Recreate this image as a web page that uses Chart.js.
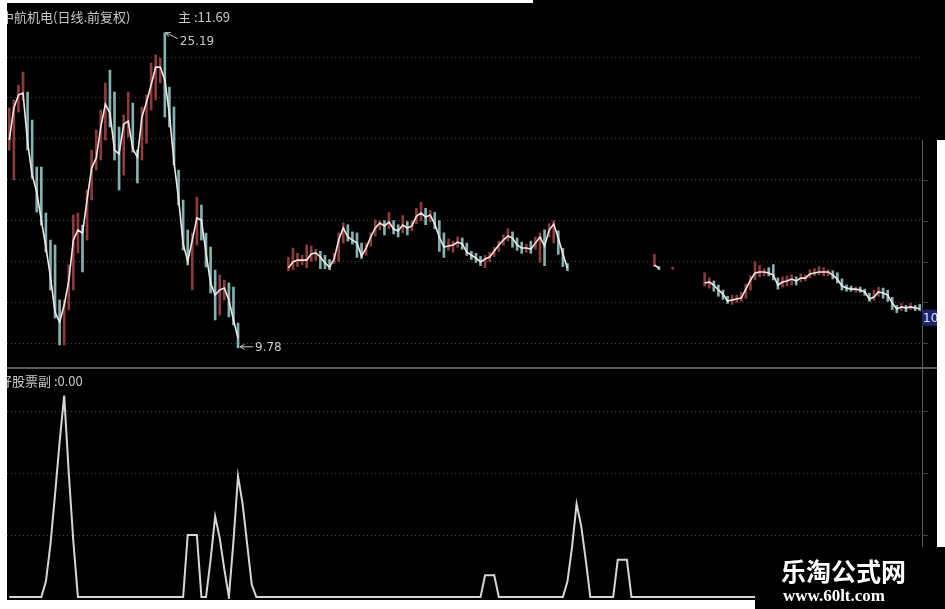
<!DOCTYPE html>
<html>
<head>
<meta charset="utf-8">
<script src="https://cdn.jsdelivr.net/npm/chart.js@4.4.1/dist/chart.umd.min.js"></script>
<style>
  html, body { margin: 0; padding: 0; background: #000; }
  canvas { display: block; }
</style>
</head>
<body>
<canvas id="kline" width="945" height="609"></canvas>
<script>
const stockTitle = '中航机电(日线.前复权)';
const subTitle = '好股票副';

// daily close (main line), null = no bar drawn
const closes = [
  19.94, 21.51, 22.14, 22.24, 19.84, 18.23, 17.40, 16.03, 14.71, 13.24,
  11.53, 11.04, 11.87, 13.05, 15.05, 15.54, 15.39, 17.01, 18.57, 19.06,
  20.58, 21.70, 21.26, 19.45, 19.26, 20.72, 20.87, 19.50, 19.11, 21.07,
  21.80, 22.63, 23.51, 23.51, 22.88, 21.21, 18.87, 17.06, 14.86, 14.02,
  15.05, 16.13, 16.03, 14.42, 12.95, 12.36, 12.61, 12.70, 12.12, 11.14,
  10.26, null, null, null, null, null, null, null, null, null,
  null, 13.68, 13.98, 14.07, 14.07, 14.07, 14.37, 14.42, 14.22, 13.93,
  13.73, 14.12, 15.05, 15.64, 15.20, 15.05, 14.90, 14.27, 14.66, 15.20,
  15.64, 15.88, 15.74, 15.93, 15.59, 15.49, 15.78, 15.64, 15.74, 16.22,
  16.37, 16.18, 16.27, 15.83, 15.20, 14.71, 14.76, 14.81, 14.95, 14.86,
  14.46, 14.32, 14.17, 13.98, 14.12, 14.22, 14.51, 14.81, 15.05, 15.25,
  15.15, 14.81, 14.66, 14.66, 14.61, 14.90, 15.20, 14.76, 15.54, 15.83,
  15.15, 14.37, 13.68, null, null, null, null, null, null, null,
  null, null, null, null, null, null, null, null, null, null,
  null, 13.83, 13.68, null, null, 13.68, null, null, null, null,
  null, null, 12.95, 13.00, 12.85, 12.61, 12.41, 12.07, 12.12, 12.17,
  12.21, 12.65, 13.09, 13.44, 13.49, 13.49, 13.44, 13.34, 12.85, 13.00,
  13.05, 13.14, 13.05, 13.19, 13.19, 13.39, 13.44, 13.49, 13.49, 13.49,
  13.34, 13.14, 12.80, 12.70, 12.65, 12.65, 12.61, 12.51, 12.17, 12.26,
  12.51, 12.46, 12.36, 11.97, 11.68, 11.78, 11.73, 11.78, 11.73, 11.69
];

const highs = [
  21.51, 21.90, 22.63, 23.27, 22.29, 20.92, 18.62, 18.62, 16.37, 15.05,
  14.81, 12.12, 12.12, 13.83, 16.27, 16.37, 15.78, 17.50, 19.45, 20.43,
  21.41, 22.73, 23.36, 22.29, 20.58, 21.16, 22.29, 21.75, 19.45, 21.56,
  22.14, 23.71, 24.10, 23.95, 25.19, 22.53, 21.56, 18.47, 17.01, 15.54,
  15.39, 17.15, 16.76, 15.39, 14.71, 13.58, 13.34, 13.09, 12.95, 12.75,
  10.99, null, null, null, null, null, null, null, null, null,
  null, 14.20, 14.66, 14.40, 14.30, 14.81, 14.76, 14.60, 14.50, 14.30,
  14.10, 14.40, 15.40, 15.90, 15.80, 15.45, 15.40, 14.90, 14.90, 15.40,
  16.05, 16.00, 16.00, 16.40, 16.00, 15.80, 16.25, 15.95, 16.00, 16.60,
  16.90, 16.60, 16.50, 16.40, 16.00, 15.40, 15.10, 15.00, 15.20, 15.15,
  14.90, 14.50, 14.40, 14.25, 14.30, 14.45, 14.70, 15.00, 15.30, 15.60,
  15.45, 15.15, 14.95, 14.85, 15.00, 15.20, 15.40, 15.55, 15.85, 16.00,
  15.50, 14.65, 13.90, null, null, null, null, null, null, null,
  null, null, null, null, null, null, null, null, null, null,
  null, 14.35, 13.75, null, null, 13.72, null, null, null, null,
  null, null, 13.45, 13.20, 13.05, 12.85, 12.60, 12.30, 12.35, 12.35,
  12.50, 12.90, 13.30, 14.00, 13.80, 13.65, 13.70, 13.85, 13.20, 13.25,
  13.30, 13.35, 13.25, 13.40, 13.35, 13.60, 13.65, 13.75, 13.70, 13.60,
  13.55, 13.45, 13.15, 12.85, 12.80, 12.75, 12.75, 12.65, 12.45, 12.60,
  12.75, 12.70, 12.60, 12.25, 11.85, 11.95, 11.85, 11.95, 11.85, 11.90
];

const lows = [
  19.45, 17.99, 21.31, 21.90, 19.45, 18.08, 16.42, 15.78, 14.46, 12.61,
  11.24, 9.92, 9.92, 11.63, 12.61, 14.42, 13.49, 15.05, 17.01, 18.47,
  18.96, 19.94, 20.58, 18.96, 17.50, 18.23, 20.09, 19.35, 17.84, 18.96,
  19.79, 21.41, 21.90, 22.73, 21.07, 20.58, 18.72, 16.76, 14.56, 13.83,
  12.61, 14.81, 15.05, 13.73, 12.46, 11.14, 11.38, 12.12, 11.29, 10.90,
  9.78, null, null, null, null, null, null, null, null, null,
  null, 13.55, 13.60, 13.75, 13.85, 13.70, 14.00, 14.05, 13.65, 13.65,
  13.60, 13.90, 14.00, 14.90, 15.00, 14.85, 14.20, 14.15, 14.30, 14.75,
  15.25, 15.55, 15.30, 15.60, 15.35, 15.20, 15.40, 15.30, 15.50, 15.85,
  16.00, 15.80, 15.95, 15.60, 14.50, 14.20, 14.55, 14.45, 14.70, 14.60,
  14.30, 14.10, 13.95, 13.80, 13.70, 14.00, 14.25, 14.50, 14.80, 15.00,
  14.70, 14.55, 14.40, 14.45, 14.40, 14.60, 13.95, 13.80, 15.20, 14.90,
  14.35, 13.75, 13.55, null, null, null, null, null, null, null,
  null, null, null, null, null, null, null, null, null, null,
  null, 13.75, 13.60, null, null, 13.62, null, null, null, null,
  null, null, 12.80, 12.70, 12.55, 12.30, 12.15, 11.95, 11.90, 12.00,
  12.05, 12.20, 12.60, 13.10, 13.25, 13.30, 13.30, 13.10, 12.65, 12.75,
  12.80, 12.85, 12.85, 13.00, 13.05, 13.20, 13.30, 13.35, 13.30, 13.30,
  13.15, 12.95, 12.60, 12.55, 12.55, 12.50, 12.50, 12.35, 12.05, 12.10,
  12.30, 12.20, 12.05, 11.65, 11.50, 11.60, 11.55, 11.65, 11.60, 11.60
];

// sub-chart indicator
const subValues = [
  0, 0, 0, 0, 0, 0, 0, 0, 5, 17,
  33, 50, 65, 40, 18, 0, 0, 0, 0, 0,
  0, 0, 0, 0, 0, 0, 0, 0, 0, 0,
  0, 0, 0, 0, 0, 0, 0, 0, 0, 20,
  20, 20, 0, 0, 12, 26, 19, 9, 0, 18,
  39, 30, 17, 4, 0, 0, 0, 0, 0, 0,
  0, 0, 0, 0, 0, 0, 0, 0, 0, 0,
  0, 0, 0, 0, 0, 0, 0, 0, 0, 0,
  0, 0, 0, 0, 0, 0, 0, 0, 0, 0,
  0, 0, 0, 0, 0, 0, 0, 0, 0, 0,
  0, 0, 0, 0, 7, 7, 7, 0, 0, 0,
  0, 0, 0, 0, 0, 0, 0, 0, 0, 0,
  0, 0, 5, 16, 30, 23, 12, 0, 0, 0,
  0, 0, 0, 12, 12, 12, 0, 0, 0, 0,
  0, 0, 0, 0, 0, 0, 0, 0, 0, 0,
  0, 0, 0, 0, 0, 0, 0, 0, 0, 0,
  0, 0, 0, 0, 0, 0, 0, 0, 0, 0,
  0, 0, 0, 0, 0, 0, 0, 0, 0, 0,
  0, 0, 0, 0, 0, 0, 0, 0, 0, 0,
  0, 0, 0, 0, 0, 0, 0, 0, 0, 0
];

const priceTicks = [10, 12, 14, 16, 18, 20, 22, 24];
const subTicks = [20, 40, 60];
const days = closes.map((_, i) => 'D' + (i + 1));

const UP = 'rgb(140, 58, 58)';
const DOWN = 'rgb(130, 178, 178)';
const TEXT = '#c8c8c8';

function candleColor(i) {
  let prev = i > 0 ? closes[i - 1] : null;
  if (prev == null || closes[i] >= prev) return UP;
  return DOWN;
}

const wicks = highs.map((h, i) => h == null ? null : [lows[i], h]);

function arrow(c, x1, y1, x2, y2) {
  // line from (x2,y2) to head at (x1,y1)
  const a = Math.atan2(y1 - y2, x1 - x2);
  c.beginPath();
  c.moveTo(x2, y2); c.lineTo(x1, y1);
  c.moveTo(x1, y1); c.lineTo(x1 - 5 * Math.cos(a - 0.5), y1 - 5 * Math.sin(a - 0.5));
  c.moveTo(x1, y1); c.lineTo(x1 - 5 * Math.cos(a + 0.5), y1 - 5 * Math.sin(a + 0.5));
  c.stroke();
}

const panelFrame = {
  id: 'panelFrame',
  beforeDraw(chart) {
    const c = chart.ctx;
    c.save();
    c.fillStyle = '#000';
    c.fillRect(0, 0, chart.width, chart.height);
    c.restore();
  },
  afterDraw(chart) {
    const c = chart.ctx;
    const { x, y, y2 } = chart.scales;
    const area = chart.chartArea;
    c.save();

    // pane separator + right axis
    c.strokeStyle = '#5a5a5a';
    c.lineWidth = 2;
    c.beginPath(); c.moveTo(0, y.bottom + 2); c.lineTo(chart.width, y.bottom + 2); c.stroke();
    c.lineWidth = 1;
    c.beginPath(); c.moveTo(area.right + 0.5, 140); c.lineTo(area.right + 0.5, area.bottom); c.stroke();
    c.strokeStyle = '#444';
    priceTicks.forEach(v => {
      const py = Math.round(y.getPixelForValue(v)) + 0.5;
      if (py > 140) { c.beginPath(); c.moveTo(area.right, py); c.lineTo(area.right + 6, py); c.stroke(); }
    });
    subTicks.forEach(v => {
      const py = Math.round(y2.getPixelForValue(v)) + 0.5;
      c.beginPath(); c.moveTo(area.right, py); c.lineTo(area.right + 6, py); c.stroke();
    });

    // titles
    const last = closes.length - 1;
    c.fillStyle = TEXT;
    c.textBaseline = 'middle';
    c.font = '13px "Noto Sans CJK SC"';
    c.fillText(stockTitle, 1, 17);
    c.fillText('主 :' + closes[last].toFixed(2), 178, 17);
    c.fillText(subTitle + ' :' + subValues[last].toFixed(2), -1, 381);

    // high / low markers
    let hi = -Infinity, hiIdx = 0, lo = Infinity, loIdx = 0;
    highs.forEach((h, i) => { if (h != null && h > hi) { hi = h; hiIdx = i; } });
    lows.forEach((l, i) => { if (l != null && l < lo) { lo = l; loIdx = i; } });
    c.strokeStyle = TEXT;
    c.lineWidth = 1;
    c.font = '12px "DejaVu Sans"';
    const hx = x.getPixelForValue(hiIdx), hy = y.getPixelForValue(hi);
    arrow(c, hx + 1, hy, hx + 13, hy + 6);
    c.fillText(hi.toFixed(2), hx + 15, hy + 9);
    const lx = x.getPixelForValue(loIdx), ly = y.getPixelForValue(lo);
    arrow(c, lx + 2, ly - 1, lx + 15, ly - 1);
    c.fillText(lo.toFixed(2), lx + 17, ly);

    // last price tag on right axis
    const tagY = y.getPixelForValue(closes[last]);
    c.fillStyle = '#1d2470';
    c.fillRect(area.right, tagY + 1, 16, 16);
    c.fillStyle = '#e8e8ff';
    c.font = '12px "DejaVu Sans"';
    c.fillText('10', area.right + 1, tagY + 10);

    // white screenshot borders
    c.fillStyle = '#fff';
    c.fillRect(0, 0, 7, chart.height);
    c.fillRect(0, 0, 533, 3);
    c.fillRect(937, 140, 8, 407);
    c.fillRect(0, 600, 755, 9);

    // watermark box
    c.fillStyle = '#000';
    c.fillRect(755, 547, 190, 62);
    c.fillStyle = '#fff';
    c.font = 'bold 25px "Noto Sans CJK SC"';
    c.fillText('乐淘公式网', 781, 571);
    c.font = 'bold 17px "Liberation Serif"';
    c.fillText('www.60lt.com', 783, 597);
    c.restore();
  }
};

const config = {
  type: 'bar',
  data: {
    labels: days,
    datasets: [
      {
        type: 'bar',
        data: wicks,
        yAxisID: 'y',
        backgroundColor: wicks.map((_, i) => candleColor(i)),
        barThickness: 2,
        order: 2
      },
      {
        type: 'line',
        data: closes,
        yAxisID: 'y',
        borderColor: '#f2e6e6',
        borderWidth: 1.6,
        pointRadius: 0,
        tension: 0,
        spanGaps: false,
        order: 1
      },
      {
        type: 'line',
        data: subValues,
        yAxisID: 'y2',
        borderColor: '#d6d6d6',
        borderWidth: 2,
        pointRadius: 0,
        tension: 0,
        order: 1
      }
    ]
  },
  options: {
    responsive: false,
    animation: false,
    devicePixelRatio: 1,
    events: [],
    layout: { padding: { left: 7, right: 23, top: 8, bottom: 10 } },
    plugins: { legend: { display: false }, tooltip: { enabled: false } },
    scales: {
      x: {
        type: 'category',
        offset: true,
        display: false
      },
      // stacked panes: the first one listed sits at the bottom
      y2: {
        position: 'left',
        stack: 'panes',
        stackWeight: 233,
        min: -0.645,
        max: 74.52,
        afterBuildTicks: s => { s.ticks = subTicks.map(v => ({ value: v })); },
        ticks: { display: false },
        grid: { color: '#474747', drawTicks: false },
        border: { display: false, dash: [1, 3] }
      },
      y: {
        position: 'left',
        stack: 'panes',
        stackWeight: 358,
        min: 8.89,
        max: 26.4,
        afterBuildTicks: s => { s.ticks = priceTicks.map(v => ({ value: v })); },
        ticks: { display: false },
        grid: { color: '#474747', drawTicks: false },
        border: { display: false, dash: [1, 3] }
      }
    }
  },
  plugins: [panelFrame]
};

new Chart(document.getElementById('kline'), config);
</script>
</body>
</html>
